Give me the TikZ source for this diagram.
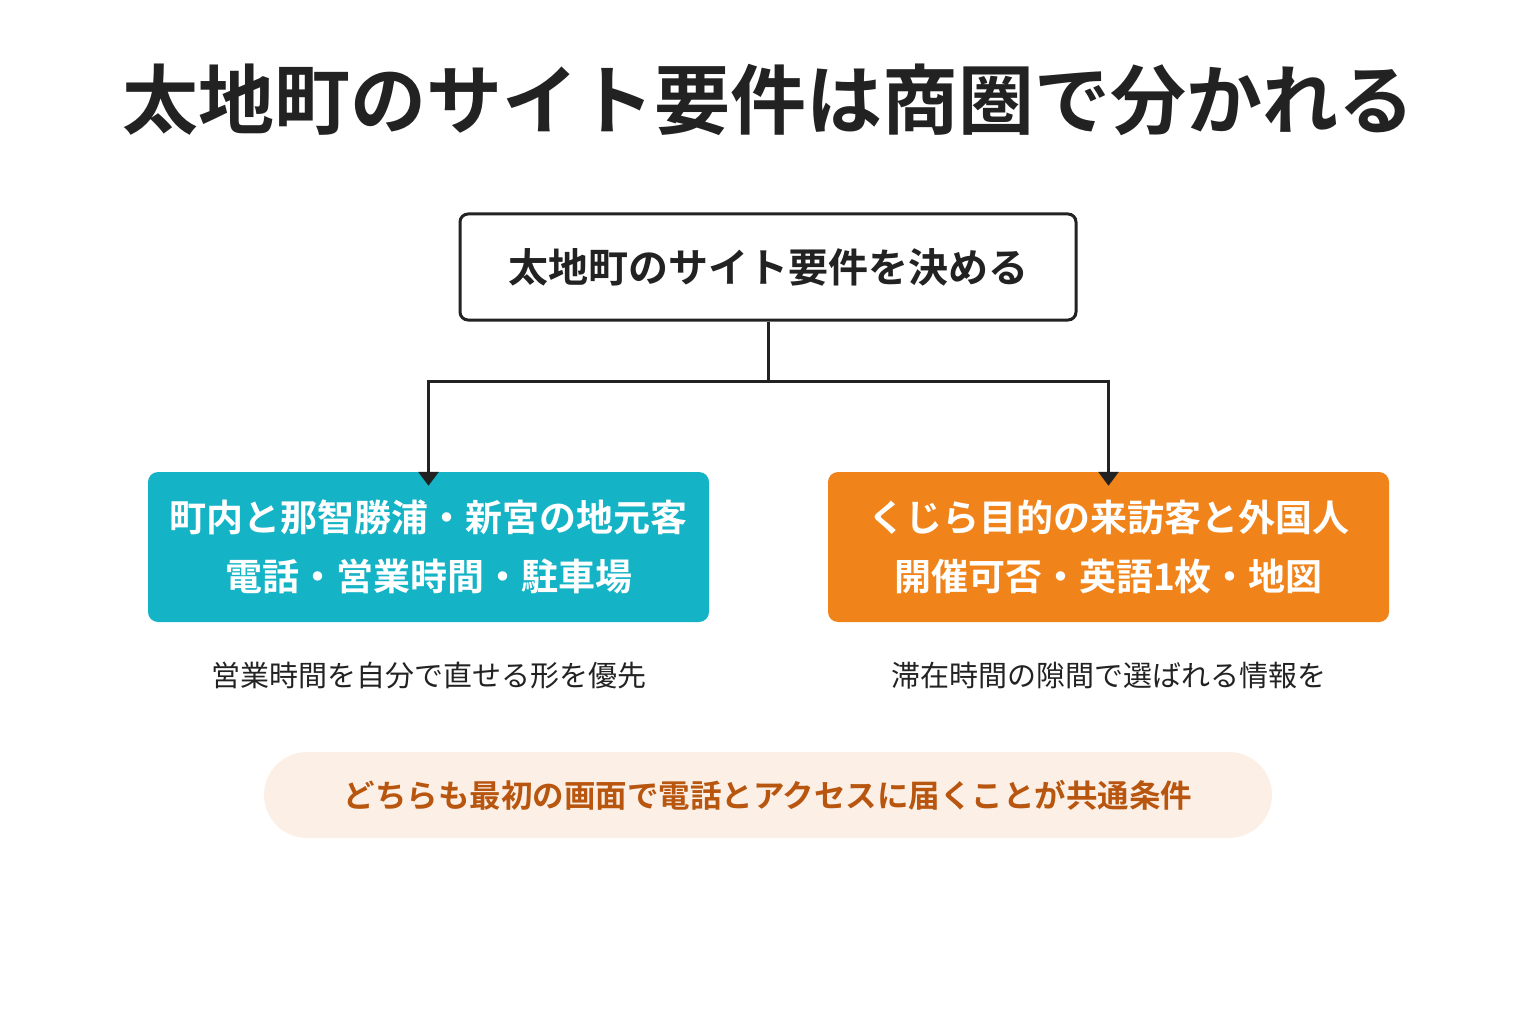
\documentclass[tikz,border=0pt]{standalone}
\usepackage{fontspec}
\setmainfont{Noto Sans CJK JP}[BoldFont={Noto Sans CJK JP Bold}]
\usetikzlibrary{positioning, arrows.meta}
\definecolor{teal}{HTML}{14B3C6}
\definecolor{orng}{HTML}{F0841A}
\definecolor{pill}{HTML}{FCF0E6}
\definecolor{pilltext}{HTML}{B8560F}
\definecolor{ink}{HTML}{222222}
\tikzset{
    x=1pt, y=-1pt,
    topbox/.style={ % root of the split
        draw=ink, line width=3pt, rounded corners=8pt, fill=white,
        minimum width=616pt, minimum height=106pt,
        font=\fontsize{40}{48}\selectfont\bfseries, text=ink
    },
    areabox/.style={ % one of the two trade areas
        rounded corners=10pt, minimum width=561pt, minimum height=150pt,
        text=white, align=center,
        font=\fontsize{37}{59}\selectfont\bfseries
    },
    note/.style={font=\fontsize{29}{34}\selectfont, text=ink},
    link/.style={draw=ink, line width=3pt, -{Triangle[width=20pt,length=14pt]}}
}
\begin{document}
\begin{tikzpicture}
    \useasboundingbox (0,0) rectangle (1536,1024);
    \node[font=\fontsize{76}{90}\selectfont\bfseries, text=ink] (title) at (768,100)
        {太地町のサイト要件は商圏で分かれる};
    \node[topbox] (req) at (768,267) {太地町のサイト要件を決める};
    \node[areabox, fill=teal] (local) at (428.5,547)
        {町内と那智勝浦・新宮の地元客\\電話・営業時間・駐車場};
    \node[areabox, fill=orng] (visit) at (1108.5,547)
        {くじら目的の来訪客と外国人\\開催可否・英語1枚・地図};
    \node[note, below=36pt of local.south] (localnote) {営業時間を自分で直せる形を優先};
    \node[note, below=36pt of visit.south] (visitnote) {滞在時間の隙間で選ばれる情報を};
    \node[fill=pill, rounded corners=43pt, minimum width=1008pt, minimum height=86pt,
          text=pilltext, font=\fontsize{31.5}{38}\selectfont\bfseries] (common) at (768,795)
        {どちらも最初の画面で電話とアクセスに届くことが共通条件};
    \coordinate (fork) at (768,381);
    \draw[line width=3pt, draw=ink] (req.south) -- (fork);
    \draw[link] (fork) -| ([yshift=-14pt]local.north);
    \draw[link] (fork) -| ([yshift=-14pt]visit.north);
\end{tikzpicture}
\end{document}
